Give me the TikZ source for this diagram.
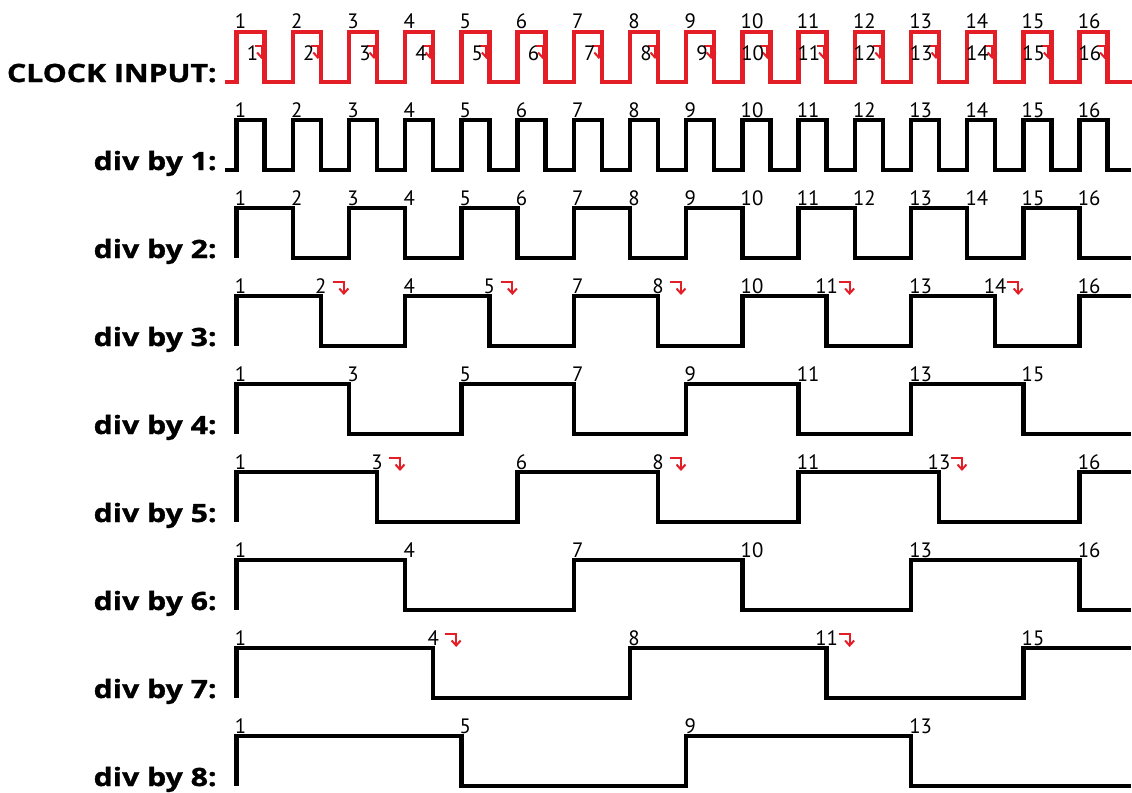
\documentclass[tikz,border=0pt]{standalone}
\usepackage{fontspec}
\newfontfamily\lblfont[FakeStretch=1.2, BoldFeatures={FakeBold=1.2}]{Open Sans}
\newfontfamily\numfont{PT Sans}
\usetikzlibrary{arrows.meta}
\definecolor{clkred}{RGB}{228,30,38}

\tikzset{
	wave/.style={line width=2.2pt, line join=miter},
	rowlbl/.style={font=\lblfont\bfseries\fontsize{12.6}{15}\selectfont, anchor=base east, inner sep=0pt},
	num/.style={font=\numfont\fontsize{10.4}{12}\selectfont, anchor=base west, inner sep=0pt},
	hook/.style={draw=clkred, line width=1pt, -{Straight Barb[length=2.5pt, width=4.5pt]}}
}

\begin{document}
\begin{tikzpicture}[x=0.5pt, y=-0.5pt]
	\useasboundingbox (0,0) rectangle (1132,793);
	% clock input
	\node[rowlbl] (lbl-clk) at (217,82) {CLOCK INPUT:};
	\draw[wave, clkred] (225,82) -- (236.5,82) -- (236.5,32)
		\foreach \k [evaluate={\k as \xx using 236.5+\k*28.1},
		             evaluate={\k as \ya using 32+50*mod(\k+1,2)},
		             evaluate={\k as \yb using 32+50*mod(\k,2)}] in {1,...,31}
		{ -- (\xx,\ya) -- (\xx,\yb) } -- (1132,82);
	\foreach \k in {0,...,31}{
		\pgfmathsetmacro\xx{236.5+\k*28.1}
		\pgfmathtruncatemacro\odd{mod(\k,2)}
		\pgfmathtruncatemacro\lab{\k/2+1.01}
		\ifnum\odd=0
			\node[num] (c-\k) at (\xx-2,28) {\lab};
		\else
			\draw[hook] (\xx-10,46) -- (\xx-3,46) -- (\xx-3,59);
			\node[num, anchor=base east] (c-\k) at (\xx-6,60) {\lab};
		\fi
	}
	% divided outputs
	\foreach \n in {1,...,8}{
		\pgfmathsetmacro\hy{32+88*\n}
		\pgfmathsetmacro\ly{\hy+50}
		\pgfmathtruncatemacro\K{31/\n}
		\pgfmathsetmacro\yend{\hy+50*mod(\K,2)}
		\node[rowlbl] (lbl-\n) at (217,\ly) {div by \n:};
		\ifnum\n=1
			\coordinate (s-\n) at (225,\ly);
		\else
			\coordinate (s-\n) at (236.5,\ly);
		\fi
		\draw[wave] (s-\n) -- (236.5,\ly) -- (236.5,\hy)
			\foreach \k [evaluate={\k as \xx using 236.5+\k*\n*28.1},
			             evaluate={\k as \ya using \hy+50*mod(\k+1,2)},
			             evaluate={\k as \yb using \hy+50*mod(\k,2)}] in {1,...,\K}
			{ -- (\xx,\ya) -- (\xx,\yb) } -- (1131,\yend);
		\foreach \k in {0,...,\K}{
			\pgfmathsetmacro\xx{236.5+\k*\n*28.1}
			\pgfmathtruncatemacro\odd{mod(\k*\n,2)}
			\pgfmathtruncatemacro\lab{1+(\k*\n-\odd)/2+0.1}
			\ifnum\odd=0
				\node[num] (t\n-\k) at (\xx-2,\hy-3) {\lab};
			\else\ifnum\n>1
				\node[num, anchor=base] (t\n-\k) at (\xx,\hy-3) {\lab};
				\draw[hook] (\xx+12,\hy-14) -- (\xx+23,\hy-14) -- (\xx+23,\hy-1);
			\fi\fi
		}
	}
\end{tikzpicture}
\end{document}
